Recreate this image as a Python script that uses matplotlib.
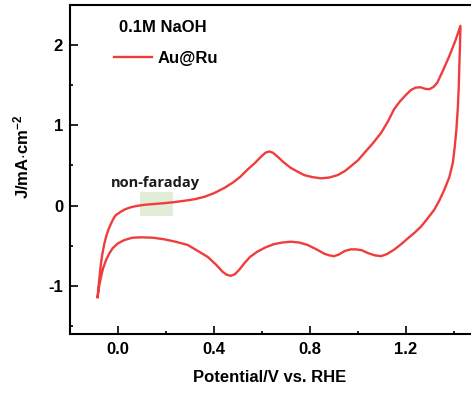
import matplotlib
matplotlib.use("Agg")
import matplotlib.pyplot as plt
from matplotlib.patches import Rectangle

# CV scan of Au@Ru in 0.1 M NaOH: anodic sweep, then cathodic sweep back
anodic_v = [-0.085, -0.080, -0.075, -0.071, -0.065, -0.058, -0.05, -0.04,
            -0.03, -0.022, -0.01, 0.0125, 0.03, 0.054, 0.08, 0.11, 0.15,
            0.19, 0.23, 0.276, 0.32, 0.36, 0.40, 0.443, 0.48, 0.51, 0.54,
            0.57, 0.596, 0.615, 0.63, 0.645, 0.665, 0.69, 0.72, 0.75, 0.776,
            0.81, 0.846, 0.88, 0.915, 0.945, 0.97, 1.0, 1.026, 1.06, 1.096,
            1.125, 1.15, 1.175, 1.20, 1.22, 1.24, 1.26, 1.28, 1.297, 1.315,
            1.33, 1.355, 1.38, 1.405, 1.427]
anodic_j = [-1.14, -0.98, -0.83, -0.72, -0.60, -0.49, -0.39, -0.30,
            -0.23, -0.18, -0.12, -0.075, -0.045, -0.02, -0.003, 0.01, 0.02,
            0.03, 0.042, 0.06, 0.08, 0.11, 0.155, 0.22, 0.29, 0.36, 0.45,
            0.53, 0.61, 0.66, 0.675, 0.66, 0.61, 0.54, 0.47, 0.42, 0.38,
            0.355, 0.34, 0.35, 0.38, 0.43, 0.49, 0.565, 0.655, 0.77, 0.905,
            1.05, 1.20, 1.30, 1.38, 1.44, 1.47, 1.475, 1.455, 1.45, 1.48,
            1.53, 1.69, 1.86, 2.05, 2.24]

cathodic_v = [1.427, 1.425, 1.422, 1.42, 1.416, 1.41, 1.403, 1.395, 1.38,
              1.36, 1.34, 1.318, 1.29, 1.263, 1.235, 1.207, 1.18, 1.15,
              1.12, 1.096, 1.07, 1.04, 1.015, 0.99, 0.97, 0.945, 0.92, 0.90,
              0.88, 0.86, 0.83, 0.79, 0.755, 0.72, 0.685, 0.65, 0.615, 0.58,
              0.55, 0.526, 0.505, 0.487, 0.47, 0.452, 0.436, 0.41, 0.374,
              0.33, 0.29, 0.24, 0.193, 0.145, 0.096, 0.06, 0.026, 0.0,
              -0.022, -0.037, -0.05, -0.062, -0.071, -0.079, -0.085]
cathodic_j = [2.24, 2.0, 1.72, 1.49, 1.22, 0.95, 0.73, 0.53, 0.35,
              0.20, 0.07, -0.05, -0.16, -0.26, -0.34, -0.41, -0.48, -0.55,
              -0.605, -0.63, -0.62, -0.59, -0.555, -0.545, -0.545, -0.565,
              -0.61, -0.63, -0.62, -0.60, -0.55, -0.49, -0.46, -0.45, -0.46,
              -0.48, -0.52, -0.575, -0.64, -0.72, -0.80, -0.855, -0.875,
              -0.86, -0.825, -0.74, -0.64, -0.56, -0.49, -0.45, -0.42, -0.40,
              -0.395, -0.40, -0.43, -0.47, -0.53, -0.60, -0.68, -0.78, -0.89,
              -1.01, -1.14]

# double-layer (non-faradaic) window
window_v = (0.092, 0.23)
window_j = (-0.13, 0.175)

plt.rcParams['font.family'] = ['Liberation Sans', 'DejaVu Sans']
plt.rcParams['mathtext.fontset'] = 'custom'
plt.rcParams['mathtext.rm'] = 'Liberation Sans:bold'
plt.rcParams['mathtext.default'] = 'rm'
plt.rcParams['axes.unicode_minus'] = False

fig = plt.figure(figsize=(4.71, 3.94), dpi=100)
ax = fig.add_axes([70 / 471, 60 / 394, 408 / 471, 329 / 394])

red = '#f03c3c'
ax.plot(anodic_v + cathodic_v[1:], anodic_j + cathodic_j[1:], color=red,
        lw=1.7, solid_joinstyle='round', label='Au@Ru', zorder=3)

ax.add_patch(Rectangle((window_v[0], window_j[0]), window_v[1] - window_v[0],
                       window_j[1] - window_j[0], facecolor='#e2edd8',
                       edgecolor='none', zorder=2))
ax.text(0.158, 0.284, 'non-faraday', family='Open Sans', weight='bold',
        fontsize=10.5, ha='center', va='center', color='#1a1a1a')
ax.text(0.1875, 2.22, '0.1M NaOH', fontsize=12, weight='bold',
        ha='center', va='center')

ax.legend(loc='upper left', bbox_to_anchor=(114 / 471, 1 - 51 / 394),
          bbox_transform=fig.transFigure, frameon=False,
          borderpad=0, borderaxespad=0, handlelength=2.3,
          handletextpad=0.3, prop={'weight': 'bold', 'size': 12})

ax.set_xlim(-0.2, 1.5)
ax.set_ylim(-1.6, 2.5)
ax.set_xticks([0.0, 0.4, 0.8, 1.2])
ax.set_xticklabels(['0.0', '0.4', '0.8', '1.2'])
ax.set_xticks([0.2, 0.6, 1.0, 1.4], minor=True)
ax.set_yticks([-1, 0, 1, 2])
ax.set_yticks([-1.5, -0.5, 0.5, 1.5], minor=True)

ax.tick_params(which='major', direction='in', length=6, width=1.2,
               labelsize=12, top=False, right=False)
ax.tick_params(axis='x', which='major', pad=6)
ax.tick_params(axis='y', which='major', pad=5)
ax.tick_params(which='minor', direction='in', length=2.5, width=1.2,
               top=False, right=False)
for lab in ax.get_xticklabels() + ax.get_yticklabels():
    lab.set_fontweight('bold')

ax.spines['right'].set_visible(False)
for side in ('left', 'bottom', 'top'):
    ax.spines[side].set_linewidth(1.5)

fig.text(270 / 471, 1 - 378 / 394, 'Potential/V vs. RHE', fontsize=12,
         weight='bold', ha='center', va='center')
fig.text(21 / 471, 1 - 157 / 394, r'J/mA$\cdot$cm$^{-2}$', fontsize=12,
         weight='bold', rotation=90, ha='center', va='center')

fig.savefig('out.png', dpi=100)
